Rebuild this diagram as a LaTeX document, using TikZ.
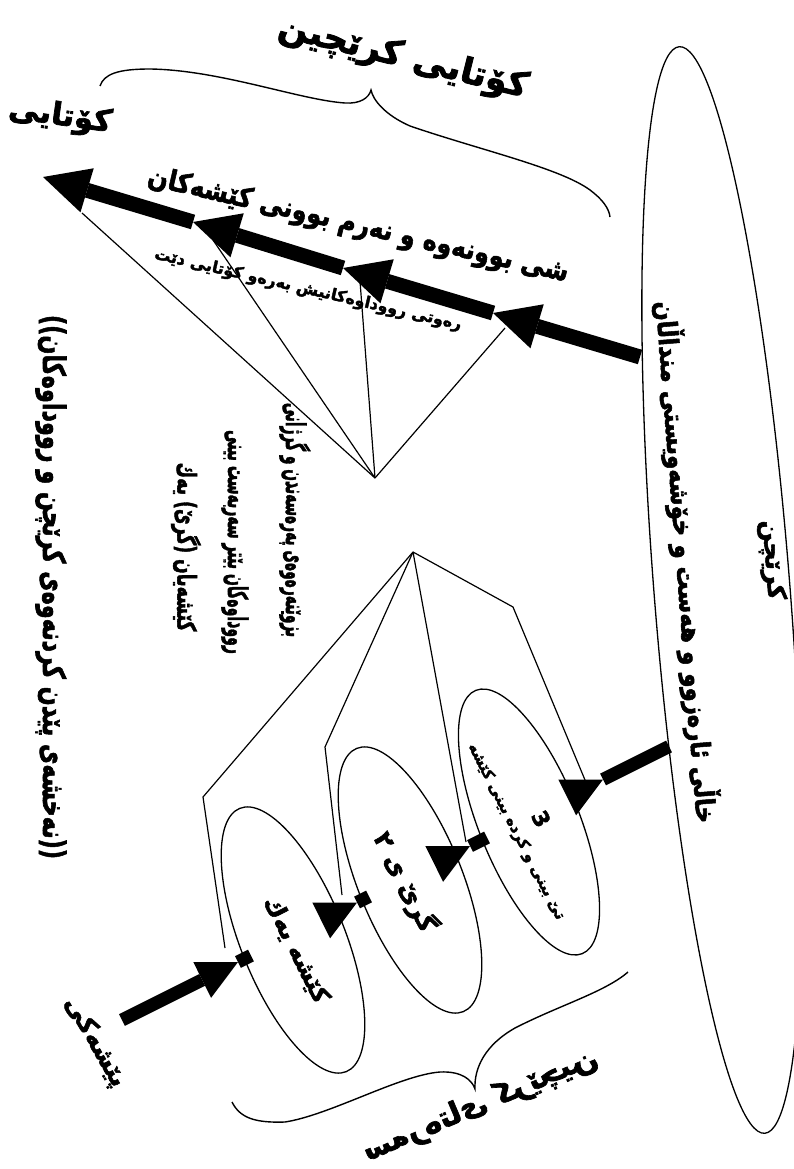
\documentclass[tikz,border=0pt]{standalone}
\usepackage{fontspec}
\usepackage{graphicx}
\usetikzlibrary{shapes.geometric,calc}
\newfontfamily\ku[Script=Arabic, FakeBold=2.2]{DejaVu Sans}
\TeXXeTstate=1
\newcommand{\ar}[1]{{\ku\bfseries #1}}
\newcommand{\arc}[2]{\scalebox{#1}[1]{\ar{#2}}}
\begin{document}
\begin{tikzpicture}[x=1pt,y=-1pt]
\tikzset{
 ubar/.style={line width=15pt},
 lbar/.style={line width=13pt},
 fan/.style={line width=1.2pt, line join=miter},
 oval/.style={draw, ellipse, line width=1.3pt, inner sep=0pt},
 brc/.style={line width=1.4pt},
 lbl/.style={inner sep=0pt, align=center},
}
\fill[white] (0,0) rectangle (794,1169);
\path[use as bounding box] (0,0) rectangle (794,1169);

% ellipses
\node[oval, minimum width=1090pt, minimum height=136pt, rotate=-85.5] (climax) at (722,590) {};
\node[oval, minimum width=284pt, minimum height=104pt, rotate=-68] (ellA) at (293,940) {};
\node[oval, minimum width=284pt, minimum height=104pt, rotate=-68] (ellB) at (410,880) {};
\node[oval, minimum width=284pt, minimum height=100pt, rotate=-68] (ellC) at (529,822) {};

% upper chain
\coordinate (u0) at (640,357);
\coordinate (t1) at (493,313); \coordinate (b1) at (537.1,326.3);
\coordinate (t2) at (343,268); \coordinate (b2) at (387.1,281.3);
\coordinate (t3) at (193,222); \coordinate (b3) at (237.1,235.3);
\coordinate (t4) at (43,177);  \coordinate (b4) at (87.1,190.3);
\draw[ubar] (u0) -- (b1);
\draw[ubar] (t1) -- (b2);
\draw[ubar] (t2) -- (b3);
\draw[ubar] (t3) -- (b4);
\foreach \t/\b in {t1/b1,t2/b2,t3/b3,t4/b4}{
  \fill (\t) -- ($(\b)+(6.65,-22.03)$) -- ($(\b)+(-6.65,22.03)$) -- cycle;
}

% lower chain
\coordinate (p0) at (122,1020);
\coordinate (l1) at (238,962);    \coordinate (m1) at (202.2,979.9); \coordinate (e1) at (251,955.5);
\coordinate (l2) at (357,902.5);  \coordinate (m2) at (321.2,920.4); \coordinate (e2) at (369,896.5);
\coordinate (l3) at (470,846);    \coordinate (m3) at (434.2,863.9); \coordinate (e3) at (487,837.5);
\coordinate (l4) at (603,779.5);  \coordinate (m4) at (567.2,797.4); \coordinate (e4) at (669,746.5);
\draw[lbar] (p0) -- (m1);
\draw[lbar] (l1) -- (e1);
\draw[lbar] (l2) -- (e2);
\draw[lbar] (l3) -- (e3);
\draw[lbar] (l4) -- (e4);
\foreach \t/\b in {l1/m1,l2/m2,l3/m3,l4/m4}{
  \fill (\t) -- ($(\b)+(8.94,17.89)$) -- ($(\b)+(-8.94,-17.89)$) -- cycle;
}

% upper fan
\coordinate (pu) at (375,478);
\coordinate (f1) at (82,213); \coordinate (f2) at (213,240);
\coordinate (f3) at (360,281); \coordinate (f4) at (505,328);
\foreach \f in {f1,f2,f3,f4}{ \draw[fan] (pu) -- (\f); }

% lower fan
\coordinate (pl) at (413,552);
\coordinate (g1a) at (203,797); \coordinate (g1) at (225,948);
\coordinate (g2a) at (325,747); \coordinate (g2) at (342,895);
\coordinate (g3) at (466,842);
\coordinate (g4a) at (513,607); \coordinate (g4) at (585,780);
\draw[fan] (pl) -- (g1a) -- (g1);
\draw[fan] (pl) -- (g2a) -- (g2);
\draw[fan] (pl) -- (g3);
\draw[fan] (pl) -- (g4a) -- (g4);

% top brace
\draw[brc] (100,86) .. controls (104,74) and (118,69) .. (150,69)
  .. controls (220,70) and (300,100) .. (345,103)
  .. controls (360,104) and (369,98) .. (371,90)
  .. controls (373,100) and (385,115) .. (410,126)
  .. controls (480,150) and (560,168) .. (590,190)
  .. controls (602,199) and (609,208) .. (610,217);

% bottom brace
\draw[brc] (232,1102) .. controls (240,1118) and (255,1123) .. (285,1122)
  .. controls (330,1115) and (400,1075) .. (440,1072)
  .. controls (462,1071) and (472,1080) .. (475,1089)
  .. controls (474,1068) and (485,1045) .. (515,1028)
  .. controls (560,1005) and (605,992) .. (628,972);

% texts
\node[lbl, rotate=-14, font=\fontsize{35}{40}\selectfont] (tTop) at (403,58) {\ar{\beginR کۆتایی کرێچین\endR}};
\node[lbl, rotate=-8, font=\fontsize{31}{35}\selectfont] (tEnd) at (60,117) {\ar{\beginR کۆتایی\endR}};
\node[lbl, rotate=-13, font=\fontsize{28}{32}\selectfont] (tFall) at (358,226) {\arc{0.86}{\beginR شی بوونەوە و نەرم بوونی کێشەکان\endR}};
\node[lbl, rotate=-13, font=\fontsize{16}{19}\selectfont] (tFlow) at (308,290) {\ar{\beginR رەوتی رووداوەکانیش بەرەو کۆتایی دێت\endR}};
\node[lbl, rotate=-90, font=\fontsize{31}{35}\selectfont] (tTitle) at (51,587) {\arc{0.72}{\beginR ((نەخشەی پێدن کردنەوەی کرێچن و رووداوەکان))\endR}};
\node[lbl, rotate=-90, font=\fontsize{27}{31}\selectfont] (tColB) at (295,520) {\arc{0.51}{\beginR بزوێنەرەوەی پەرەسەندن و گرژانی\endR}};
\node[lbl, rotate=-90, font=\fontsize{27}{31}\selectfont] (tColC) at (235,542) {\arc{0.52}{\beginR رووداوەکان بێتر سەربەست بینی\endR}};
\node[lbl, rotate=-90, font=\fontsize{26}{30}\selectfont] (tColD) at (186,547) {\arc{0.66}{\beginR کێشەیان (گرێ) یەك\endR}};
\node[lbl, rotate=-60, font=\fontsize{25}{29}\selectfont] (tStart) at (95,1042) {\ar{\beginR پێشەکی\endR}};
\node[lbl, rotate=-63, font=\fontsize{24}{28}\selectfont] (tA) at (296,950) {\ar{\beginR کێشە یەك\endR}};
\node[lbl, rotate=-63, font=\fontsize{25}{29}\selectfont] (tB) at (405,882) {\ar{\beginR گرێ ی ۲\endR}};
\node[lbl, rotate=-63, font=\fontsize{15}{24}\selectfont] (tC) at (529,825) {\ar{\fontsize{22}{24}\selectfont 3}\\ \ar{\beginR تێ بینی و کردە بینی کێشە\endR}};
\node[lbl, rotate=-85.5, font=\fontsize{25}{29}\selectfont] (tClimax) at (772,560) {\ar{\beginR کرێچن\endR}};
\node[lbl, rotate=-85.5, font=\fontsize{27}{31}\selectfont] (tClimaxText) at (686,562) {\arc{0.85}{\beginR خاڵی ئارەزوو و هەست و خۆشەویستی منداڵان\endR}};
\node[lbl, rotate=23, font=\fontsize{30}{34}\selectfont] (tRise) at (480,1105) {\reflectbox{\ar{\beginR سەرەتای کرێچین\endR}}};
\end{tikzpicture}
\end{document}
